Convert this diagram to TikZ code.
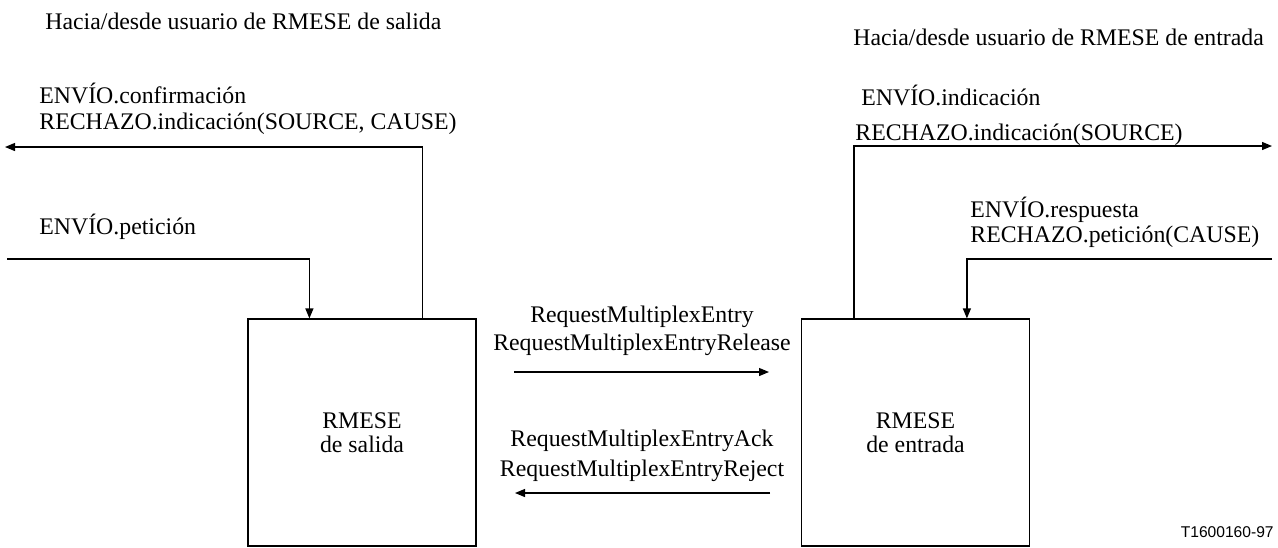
\documentclass[tikz,border=0pt]{standalone}
\usepackage{fontspec}
\setmainfont{Liberation Serif}
\newfontfamily\arialf{Liberation Sans}
\usetikzlibrary{arrows.meta,calc}
\begin{document}
\begin{tikzpicture}[x=0.5pt,y=-0.5pt,
  txt/.style={inner sep=0pt, anchor=base west, font=\fontsize{11.9}{14}\selectfont},
  ctxt/.style={txt, anchor=base},
  box/.style={draw, line width=0.6pt, minimum width=114pt, minimum height=113.5pt, inner sep=0pt, align=center, font=\fontsize{11.9}{12}\selectfont},
  ln/.style={line width=0.6pt},
  arr/.style={ln, -{Triangle[length=5pt,width=4pt]}}]
\useasboundingbox (0,0) rectangle (1278,547);

% boxes
\node[box] (sal) at (362,432.5) {RMESE\\de salida};
\node[box] (ent) at (915.5,432.5) {RMESE\\de entrada};

% free ends
\coordinate (outL) at (5,147);
\coordinate (inL) at (7,259);
\coordinate (outR) at (1272,146);
\coordinate (inR) at (1272,259);
\coordinate (a1) at (514,372);
\coordinate (a2) at (769,372);
\coordinate (b1) at (770,493);
\coordinate (b2) at (515,493);

% connectors
\draw[arr] ($(sal.north west)+(175,0)$) |- (outL);
\draw[arr] (inL) -| ($(sal.north west)+(62,0)$);
\draw[arr] ($(ent.north west)+(53,0)$) |- (outR);
\draw[arr] (inR) -| ($(ent.north west)+(166,0)$);
\draw[arr] (a1) -- (a2);
\draw[arr] (b1) -- (b2);

% texts
\node[txt] (t1) at (45,29) {Hacia/desde usuario de RMESE de salida};
\node[txt] (t2) at (853,45) {Hacia/desde usuario de RMESE de entrada};
\node[txt] (l1) at (39,103) {ENVÍO.confirmación};
\node[txt] (l2) at (39,129) {RECHAZO.indicación(SOURCE, CAUSE)};
\node[txt] (l3) at (39,234) {ENVÍO.petición};
\node[txt] (r1) at (861,105) {ENVÍO.indicación};
\node[txt] (r2) at (855,140) {RECHAZO.indicación(SOURCE)};
\node[txt] (r3) at (970,217) {ENVÍO.respuesta};
\node[txt] (r4) at (970,242) {RECHAZO.petición(CAUSE)};
\node[ctxt] (m1) at (642,322) {RequestMultiplexEntry};
\node[ctxt] (m2) at (642,350) {RequestMultiplexEntryRelease};
\node[ctxt] (m3) at (642,446) {RequestMultiplexEntryAck};
\node[ctxt] (m4) at (642,476) {RequestMultiplexEntryReject};
\node[inner sep=0pt, anchor=base east, font=\arialf\fontsize{7.8}{9}\selectfont] (id) at (1274,537) {T1600160-97};
\end{tikzpicture}
\end{document}
